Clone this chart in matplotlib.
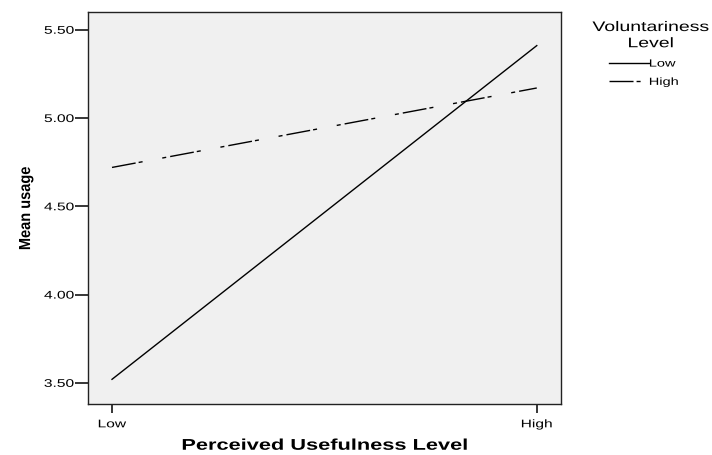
import matplotlib.pyplot as plt
from matplotlib.patheffects import AbstractPathEffect
from matplotlib.transforms import Affine2D
from matplotlib.path import Path

plt.rcParams['font.family'] = ['Liberation Sans', 'DejaVu Sans']

# data
levels = ['Low', 'High']
low_vol = [3.52, 5.41]
high_vol = [4.72, 5.17]
yticks = [3.50, 4.00, 4.50, 5.00, 5.50]


class Widen(AbstractPathEffect):
    # the original export has its text stretched sideways, do the same here
    def __init__(self, sx=1.4, anchor='center'):
        super().__init__()
        self.sx = sx
        self.anchor = anchor

    def draw_path(self, renderer, gc, tpath, affine, rgbFace=None):
        v = tpath.vertices
        if tpath.codes is not None:
            v = v[tpath.codes != Path.CLOSEPOLY]
        xs = affine.transform(v)[:, 0]
        if self.anchor == 'left':
            x0 = xs.min()
        elif self.anchor == 'right':
            x0 = xs.max()
        else:
            x0 = (xs.min() + xs.max()) / 2
        tr = affine + Affine2D().translate(-x0, 0).scale(self.sx, 1).translate(x0, 0)
        renderer.draw_path(gc, tpath, tr, rgbFace)


fig = plt.figure(figsize=(7.12, 4.55), dpi=100)
ax = fig.add_axes([0.1236, 0.112, 0.664, 0.8615])
ax.set_facecolor('#f0f0f0')

dashdot = (17.3, 2.2, 2.9, 14.4, 2.9, 2.9)
x = range(len(levels))
ax.plot(x, low_vol, color='black', lw=1.0, label='Low')
ax.plot(x, high_vol, color='black', lw=1.0, dashes=dashdot, label='High')

ax.set_xlim(-0.0565, 1.0565)
ax.set_ylim(3.38, 5.60)
ax.set_xticks(list(x))
ax.set_xticklabels(levels, fontsize=8, path_effects=[Widen(1.4, 'center')])
ax.set_yticks(yticks)
ax.set_yticklabels(['%.2f' % v for v in yticks], fontsize=8,
                   path_effects=[Widen(1.4, 'right')])
ax.tick_params(axis='y', direction='out', length=9.4, width=1.1, pad=0.8)
ax.tick_params(axis='x', direction='out', length=6.5, width=1.1, pad=4.5)
for s in ax.spines.values():
    s.set_linewidth(1.0)
    s.set_color('#222222')

ax.set_xlabel('Perceived Usefulness Level', fontsize=11.2, fontweight='bold',
              path_effects=[Widen(1.4, 'center')])
ax.xaxis.set_label_coords(0.5, -0.086)
ax.set_ylabel('Mean usage', fontsize=10.5, fontweight='bold',
              path_effects=[Widen(1.1, 'center')])
ax.yaxis.set_label_coords(-0.117, 0.5)

leg = fig.legend(loc='upper left', bbox_to_anchor=(609 / 712, 0.956), frameon=False,
                 title='Voluntariness\nLevel', fontsize=7.5, title_fontsize=10,
                 handlelength=3.85, handletextpad=0.0, labelspacing=0.8,
                 borderpad=0, borderaxespad=0, alignment='left')
leg.get_title().set_multialignment('center')
leg.get_title().set_path_effects([Widen(1.4, 'center')])
for t in leg.get_texts():
    t.set_path_effects([Widen(1.4, 'left')])

plt.savefig('out.png')
